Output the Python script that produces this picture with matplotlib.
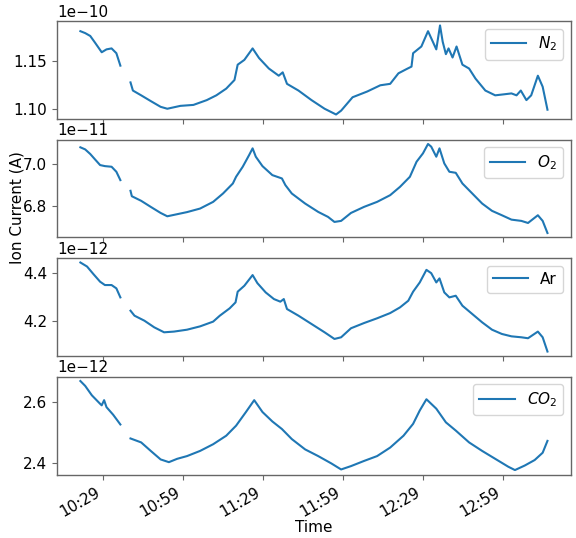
import numpy as np
import pandas as pd
import matplotlib
matplotlib.use("Agg")
import matplotlib.pyplot as plt
import matplotlib.dates as mdates
from matplotlib.ticker import MultipleLocator

plt.rcParams.update({
    "font.size": 11,
    "axes.edgecolor": "0.4",
    "xtick.color": "0.4",
    "ytick.color": "0.4",
    "xtick.labelcolor": "black",
    "ytick.labelcolor": "black",
})

START = "2019-06-12 10:20:36"

# Elapsed minutes since START and ion currents; None marks the logging gap.
n2_min = [0, 1.8, 3.7, 5.5, 8.0, 9.8, 11.7, 13.5, 15.0, None,
          18.8, 19.7, 22.8, 26.4, 30.1, 32.6, 37.5, 42.4, 47.4, 51.0, 54.7,
          57.8, 59.0, 61.5, 64.6, 67.0, 70.7, 74.4, 75.9, 77.5, 81.8, 86.7,
          91.6, 95.9, 97.8, 102.1, 107.6, 112.5, 116.2, 119.3, 122.4, 124.2,
          124.8, 127.9, 130.4, 132.2, 133.5, 134.9, 135.9, 137.1, 138.1, 139.6,
          141.1, 143.3, 145.8, 148.2, 151.9, 155.6, 158.7, 161.7, 163.6, 165.2,
          167.3, 169.1, 171.6, 173.4, 175.2]
n2_val = [1.181, 1.179, 1.176, 1.169, 1.159, 1.162, 1.163, 1.158, 1.145, None,
          1.1275, 1.119, 1.114, 1.108, 1.102, 1.100, 1.103, 1.104, 1.109, 1.114, 1.121,
          1.130, 1.146, 1.151, 1.163, 1.153, 1.142, 1.1345, 1.138, 1.126, 1.119, 1.109,
          1.100, 1.094, 1.098, 1.112, 1.118, 1.1245, 1.126, 1.137, 1.1415, 1.144,
          1.158, 1.165, 1.181, 1.170, 1.162, 1.187, 1.170, 1.157, 1.163, 1.1535,
          1.165, 1.146, 1.142, 1.1315, 1.119, 1.114, 1.115, 1.116, 1.114, 1.119,
          1.109, 1.114, 1.1345, 1.123, 1.099]

o2_min = [0, 1.8, 3.7, 5.5, 7.4, 9.2, 11.7, 13.5, 15.0, None,
          18.8, 19.3, 22.8, 26.4, 30.1, 32.6, 36.3, 40.0, 44.9, 49.8, 53.5,
          57.2, 58.4, 60.9, 63.3, 64.6, 65.8, 68.3, 72.0, 75.6, 76.9, 79.3,
          84.3, 89.2, 92.9, 95.3, 97.8, 101.5, 106.4, 111.3, 116.2, 119.9,
          123.6, 126.1, 128.5, 130.4, 131.6, 133.5, 134.7, 136.5, 138.4, 140.8,
          143.3, 147.0, 150.7, 154.4, 158.1, 161.7, 165.4, 167.9, 171.6, 173.4,
          175.2]
o2_val = [7.080, 7.070, 7.048, 7.022, 6.995, 6.990, 6.987, 6.963, 6.923, None,
          6.872, 6.846, 6.824, 6.795, 6.766, 6.750, 6.760, 6.770, 6.787, 6.819, 6.859,
          6.907, 6.939, 6.987, 7.043, 7.075, 7.035, 6.990, 6.947, 6.931, 6.899, 6.859,
          6.811, 6.771, 6.747, 6.723, 6.728, 6.766, 6.795, 6.819, 6.851, 6.891,
          6.939, 7.011, 7.051, 7.096, 7.083, 7.035, 7.075, 7.003, 6.963, 6.958,
          6.907, 6.859, 6.811, 6.776, 6.755, 6.734, 6.728, 6.718, 6.755, 6.728,
          6.670]

ar_min = [0, 2.5, 4.9, 7.4, 9.2, 11.7, 13.5, 15.0, None,
          18.8, 20.3, 24.0, 27.7, 31.4, 35.1, 40.0, 44.9, 49.8, 52.3, 56.0,
          58.2, 59.0, 61.5, 64.6, 66.4, 69.5, 72.6, 75.0, 76.3, 77.5, 81.8,
          86.7, 91.6, 95.3, 97.8, 101.5, 106.4, 111.3, 116.2, 119.9, 123.0,
          124.8, 127.3, 129.8, 131.6, 133.5, 134.7, 136.5, 138.4, 140.8, 143.3,
          147.0, 150.7, 154.4, 158.1, 161.7, 165.4, 167.9, 171.6, 173.4, 175.2]
ar_val = [4.445, 4.428, 4.396, 4.364, 4.350, 4.350, 4.336, 4.298, None,
          4.242, 4.221, 4.200, 4.172, 4.151, 4.154, 4.162, 4.176, 4.196, 4.221, 4.252,
          4.277, 4.322, 4.347, 4.392, 4.358, 4.319, 4.291, 4.280, 4.291, 4.249, 4.221,
          4.186, 4.151, 4.123, 4.130, 4.168, 4.190, 4.210, 4.232, 4.256, 4.284,
          4.322, 4.361, 4.414, 4.400, 4.361, 4.378, 4.319, 4.298, 4.305, 4.263,
          4.228, 4.193, 4.162, 4.144, 4.134, 4.130, 4.126, 4.154, 4.130, 4.070]

co2_min = [0, 1.8, 4.3, 7.4, 8.0, 8.9, 9.8, 12.3, 15.0, None,
           18.8, 22.8, 26.4, 30.1, 33.2, 36.3, 40.0, 44.9, 49.8, 54.7, 58.4,
           62.1, 65.2, 68.3, 72.0, 75.6, 79.3, 84.3, 89.2, 94.1, 97.8, 101.5,
           106.4, 111.3, 116.2, 121.2, 124.8, 127.3, 129.8, 133.5, 137.1, 140.8,
           145.8, 150.7, 155.6, 160.5, 163.0, 166.7, 170.4, 173.4, 175.2]
co2_val = [2.669, 2.653, 2.622, 2.594, 2.589, 2.606, 2.583, 2.558, 2.526, None,
           2.480, 2.467, 2.439, 2.411, 2.402, 2.413, 2.422, 2.439, 2.461, 2.489, 2.522,
           2.567, 2.606, 2.567, 2.536, 2.511, 2.478, 2.444, 2.422, 2.398, 2.378, 2.389,
           2.406, 2.422, 2.450, 2.489, 2.528, 2.572, 2.609, 2.578, 2.533, 2.506,
           2.467, 2.439, 2.413, 2.387, 2.376, 2.391, 2.409, 2.433, 2.472]

# (times, values, unit scale, legend label, y tick step in units)
series = [
    (n2_min, n2_val, 1e-10, "$N_2$", 0.05),
    (o2_min, o2_val, 1e-11, "$O_2$", 0.2),
    (ar_min, ar_val, 1e-12, "Ar", 0.2),
    (co2_min, co2_val, 1e-12, "$CO_2$", 0.2),
]

tick_times = ["10:29", "10:59", "11:29", "11:59", "12:29", "12:59"]

fig, axes = plt.subplots(4, 1, sharex=True, figsize=(5.76, 5.38), dpi=100)

t0 = pd.Timestamp(START)
for ax, (mins, vals, scale, label, step) in zip(axes, series):
    m = np.array([np.nan if v is None else v for v in mins], dtype=float)
    y = np.array([np.nan if v is None else v for v in vals], dtype=float) * scale
    t = t0 + pd.to_timedelta(np.nan_to_num(m), unit="m")
    t = pd.Series(t).where(~np.isnan(m))
    ax.plot(t.values, y, color="#1f77b4", lw=1.5, label=label)
    ax.yaxis.set_major_locator(MultipleLocator(step * scale))
    ax.legend(loc="upper right", handlelength=2.3)
    for s in ax.spines.values():
        s.set_linewidth(1.0)

day = t0.strftime("%Y-%m-%d")
axes[-1].set_xticks([pd.Timestamp(f"{day} {h}") for h in tick_times])
axes[-1].xaxis.set_major_formatter(mdates.DateFormatter("%H:%M"))
fig.autofmt_xdate(rotation=30, ha="right")
axes[-1].set_xlabel("Time", labelpad=1)
fig.subplots_adjust(left=0.099, right=0.991, top=0.961, bottom=0.118, hspace=0.21)
fig.text(0.029, 0.615, "Ion Current (A)", rotation=90, ha="center", va="center")

fig.savefig("out.png", dpi=100)
